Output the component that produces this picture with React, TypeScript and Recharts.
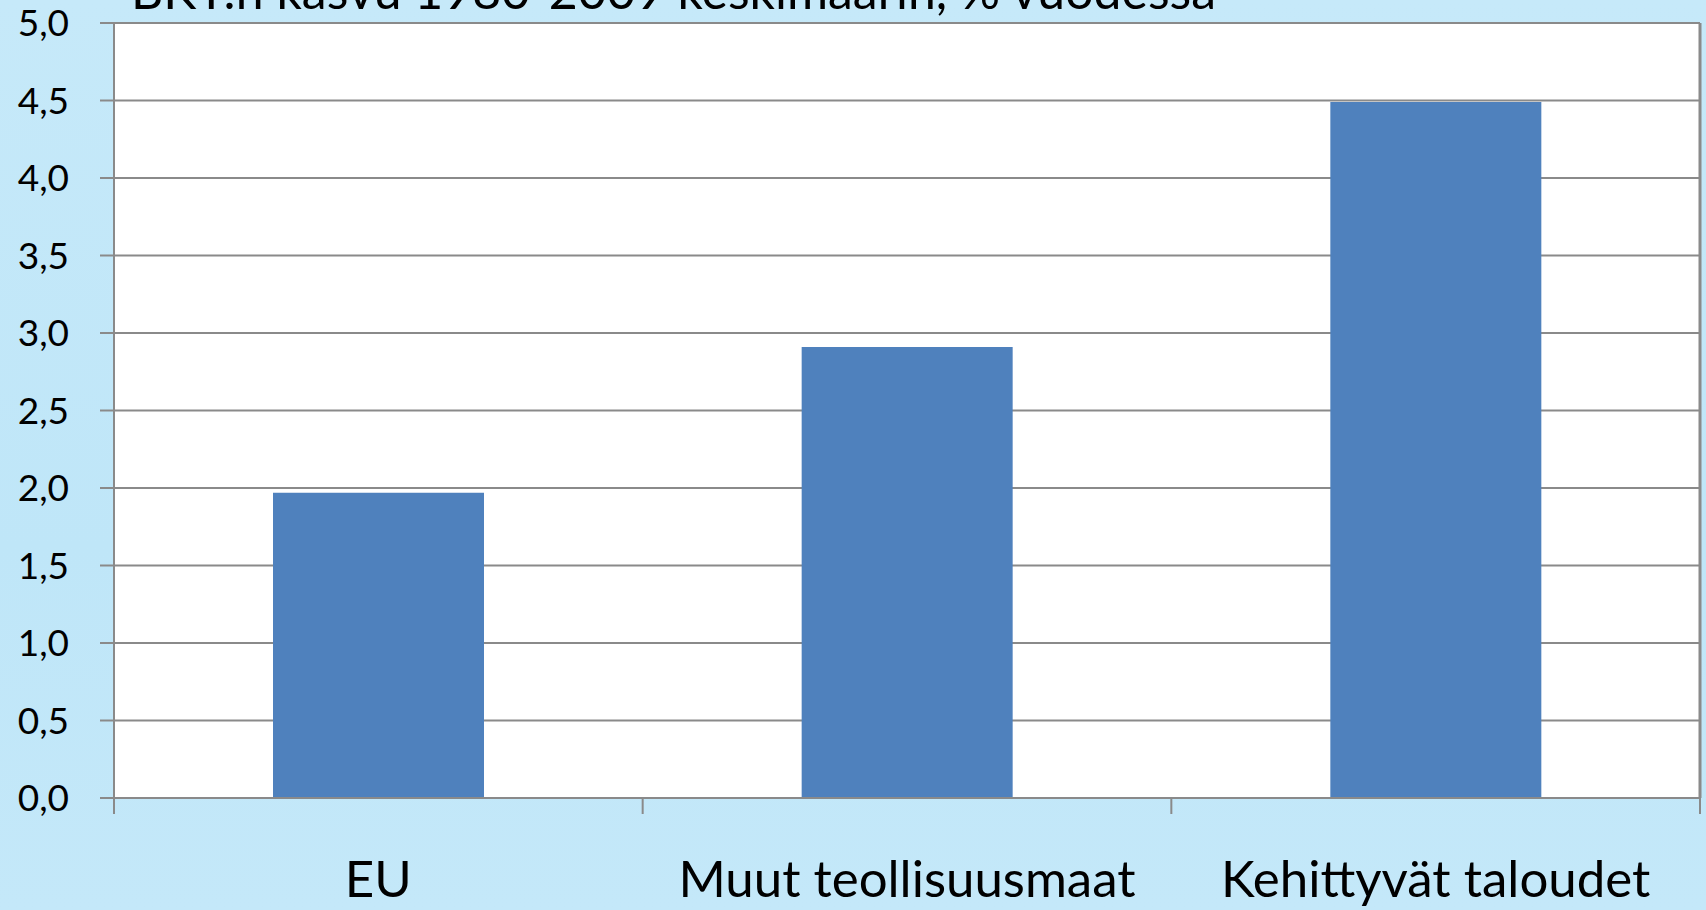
import React from 'react';
import { BarChart, Bar, XAxis, YAxis, CartesianGrid, ReferenceLine } from 'recharts';

const title = 'BKT:n kasvu 1980-2009 keskimäärin, % vuodessa';
const categories = ['EU', 'Muut teollisuusmaat', 'Kehittyvät taloudet'];
const growth = [1.97, 2.91, 4.49];
const yTicks = [0, 0.5, 1, 1.5, 2, 2.5, 3, 3.5, 4, 4.5, 5];

const data = categories.map((name, i) => ({ name, pos: i + 0.5, value: growth[i] }));
const xTicks = [0, ...categories.flatMap((_, i) => [i + 0.5, i + 1])];

const GRID = '#8a8a8a';
const FONT = 'Lato, "Open Sans", sans-serif';

const XTick = (props: any) => {
  const { x, y, payload } = props;
  const v = payload.value as number;
  if (Number.isInteger(v)) {
    return <line x1={x} x2={x} y1={y} y2={y + 16} stroke={GRID} strokeWidth={2} />;
  }
  return (
    <text x={x} y={y + 99} textAnchor="middle" fontFamily={FONT} fontSize={51} fill="#000">
      {categories[Math.floor(v)]}
    </text>
  );
};

export default function App() {
  return (
    <div
      style={{
        position: 'absolute',
        left: 0,
        top: 0,
        width: 1706,
        height: 910,
        overflow: 'hidden',
        background: 'linear-gradient(180deg, #c6e9f9 0%, #bfe6f8 60%, #c4e8f9 100%)',
      }}
    >
      <svg width={1706} height={40} style={{ position: 'absolute', left: 0, top: 0 }}>
        <text x={131} y={9} fontFamily={FONT} fontSize={50} fill="#000" textLength={1085} lengthAdjust="spacingAndGlyphs">
          {title}
        </text>
      </svg>
      <div style={{ position: 'absolute', left: 0, top: 0 }}>
        <BarChart width={1706} height={910} data={data} margin={{ top: 23, right: 6, bottom: 0, left: 0 }}>
          <CartesianGrid vertical={false} fill="#ffffff" stroke={GRID} strokeWidth={2} />
          <XAxis
            dataKey="pos"
            type="number"
            domain={[0, 3]}
            ticks={xTicks}
            interval={0}
            height={112}
            tickSize={0}
            tickMargin={0}
            tickLine={false}
            axisLine={{ stroke: GRID, strokeWidth: 2 }}
            tick={<XTick />}
          />
          <YAxis
            type="number"
            domain={[0, 5]}
            ticks={yTicks}
            interval={0}
            width={114}
            tickSize={14}
            tickMargin={31}
            tickFormatter={(v: number) => v.toFixed(1).replace('.', ',')}
            axisLine={{ stroke: GRID, strokeWidth: 2 }}
            tickLine={{ stroke: GRID, strokeWidth: 2 }}
            tick={{ fontSize: 37, fontFamily: FONT, fill: '#000' }}
          />
          <ReferenceLine x={3} stroke={GRID} strokeWidth={3} />
          <Bar dataKey="value" fill="#4f81bd" barSize={211} isAnimationActive={false} />
        </BarChart>
      </div>
    </div>
  );
}
